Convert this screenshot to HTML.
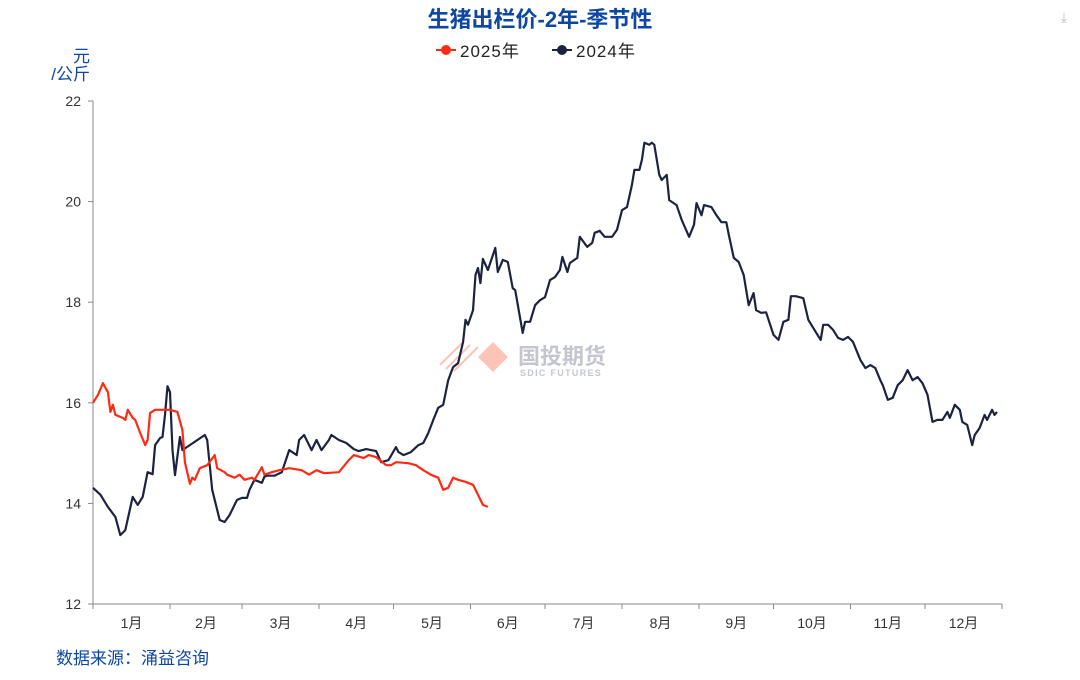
<!DOCTYPE html>
<html><head><meta charset="utf-8"><style>
body{margin:0;background:#fff;width:1080px;height:675px;overflow:hidden;font-family:"Liberation Sans","Noto Sans CJK SC",sans-serif}
</style></head><body>
<svg id="c" width="1080" height="675" xmlns="http://www.w3.org/2000/svg" font-family="Liberation Sans, Noto Sans CJK SC, sans-serif">
<text x="540" y="27" text-anchor="middle" font-size="22" font-weight="bold" fill="#0d47a1">生猪出栏价-2年-季节性</text>
<g><line x1="436" y1="50" x2="456" y2="50" stroke="#ff2a14" stroke-width="2"/><circle cx="446" cy="50" r="5" fill="#ff2a14"/><text x="460" y="57" font-size="17" fill="#222" letter-spacing="1">2025年</text></g>
<g><line x1="552" y1="50" x2="572" y2="50" stroke="#1c2340" stroke-width="2"/><circle cx="562" cy="50" r="5" fill="#1c2340"/><text x="576" y="57" font-size="17" fill="#222" letter-spacing="1">2024年</text></g>
<text x="1064" y="22" font-size="14" fill="#bbb" text-anchor="middle">⤓</text>
<text x="90" y="62" font-size="17" fill="#0d47a1" text-anchor="end">元</text>
<text x="90" y="80" font-size="17" fill="#0d47a1" text-anchor="end">/公斤</text>
<g opacity="0.5">
<polygon points="478,357 493,342 508,357 493,372" fill="#f98a70"/>
<line x1="440" y1="365" x2="462" y2="343" stroke="#f98a70" stroke-width="2"/>
<line x1="446" y1="369" x2="470" y2="345" stroke="#f98a70" stroke-width="2"/>
<line x1="454" y1="371" x2="478" y2="347" stroke="#f98a70" stroke-width="2"/>
<text x="518" y="364" font-size="22" font-weight="bold" fill="#8a8fa0">国投期货</text>
<text x="520" y="376" font-size="9" font-weight="bold" fill="#8a8fa0" letter-spacing="1.3">SDIC FUTURES</text>
</g>
<g id="axes"></g>
<g id="series"></g>
<text x="56" y="664" font-size="17" fill="#0d47a1">数据来源：涌益咨询</text>
</svg>
<script>
const yTicks=[12,14,16,18,20,22];
const months=["1月","2月","3月","4月","5月","6月","7月","8月","9月","10月","11月","12月"];
const monthStart=[0,31,60,91,121,152,182,213,244,274,305,335,366];
const days2024=[0,3,6,9,11,13,16,18,20,22,24,25,27,28,29,30,31,32,33,35,36,45,46,48,51,53,55,58,60,62,63,65,68,69,70,73,76,79,82,83,85,88,90,92,95,96,99,102,105,107,110,114,116,119,122,123,125,128,131,133,135,137,139,141,143,145,147,149,150,151,153,154,155,156,157,159,162,163,165,167,169,170,173,174,176,178,180,182,184,186,188,189,191,192,195,196,199,201,202,204,206,209,211,213,215,217,218,220,221,222,224,225,226,228,229,231,232,235,237,240,242,243,245,246,249,251,253,255,256,258,260,262,264,266,267,269,271,274,276,278,280,281,283,286,288,291,293,294,296,298,300,302,304,306,309,311,313,315,317,318,320,322,324,326,328,330,332,334,336,338,340,342,344,345,347,349,350,352,354,355,357,359,360,362,363,364];
const values2024=[14.31,14.17,13.93,13.73,13.37,13.47,14.13,13.97,14.13,14.62,14.58,15.16,15.30,15.32,15.76,16.33,16.21,15.06,14.56,15.32,15.06,15.36,15.26,14.27,13.67,13.63,13.77,14.07,14.11,14.11,14.27,14.47,14.41,14.53,14.55,14.55,14.62,15.06,14.96,15.26,15.36,15.06,15.26,15.06,15.26,15.36,15.26,15.20,15.08,15.04,15.08,15.04,14.82,14.86,15.12,15.02,14.96,15.02,15.16,15.20,15.40,15.66,15.90,15.96,16.45,16.71,16.79,17.21,17.65,17.55,17.84,18.54,18.68,18.38,18.86,18.64,19.08,18.60,18.84,18.80,18.28,18.24,17.39,17.61,17.61,17.94,18.04,18.10,18.44,18.50,18.64,18.90,18.60,18.78,18.88,19.30,19.10,19.18,19.38,19.42,19.30,19.30,19.44,19.83,19.89,20.33,20.63,20.63,20.83,21.17,21.13,21.17,21.13,20.53,20.43,20.53,20.03,19.93,19.64,19.30,19.54,19.97,19.73,19.93,19.89,19.73,19.59,19.59,19.34,18.88,18.80,18.54,17.94,18.18,17.84,17.79,17.80,17.35,17.25,17.61,17.65,18.12,18.12,18.08,17.65,17.41,17.25,17.55,17.55,17.45,17.29,17.25,17.31,17.21,16.85,16.69,16.75,16.69,16.45,16.35,16.06,16.10,16.35,16.45,16.65,16.45,16.51,16.39,16.16,15.62,15.66,15.66,15.82,15.70,15.96,15.86,15.62,15.56,15.16,15.36,15.50,15.76,15.66,15.86,15.76,15.82];
const days2025=[0,2,4,6,7,8,9,12,13,14,16,17,19,21,22,23,25,31,34,36,37,39,40,41,43,46,49,50,53,54,57,59,61,64,65,68,69,72,75,79,84,87,90,93,99,103,105,109,111,114,118,120,122,127,130,133,136,139,141,143,145,147,150,153,155,157,159];
const values2025=[16.0,16.16,16.39,16.21,15.82,15.96,15.76,15.70,15.66,15.86,15.70,15.66,15.40,15.16,15.26,15.80,15.86,15.86,15.82,15.46,14.82,14.39,14.51,14.47,14.70,14.76,14.96,14.70,14.62,14.57,14.51,14.57,14.47,14.51,14.47,14.72,14.57,14.62,14.66,14.70,14.66,14.57,14.66,14.60,14.62,14.86,14.96,14.90,14.96,14.92,14.76,14.76,14.82,14.80,14.76,14.66,14.57,14.51,14.27,14.31,14.51,14.47,14.43,14.37,14.17,13.97,13.93];
const X0=93,X1=1002,Y0=604,Y1=101;
const xs=d=>X0+d/366*(X1-X0);
const ys=v=>Y0-(v-12)/10*(Y0-Y1);
const NS="http://www.w3.org/2000/svg";
function mk(tag,attrs,parent){const e=document.createElementNS(NS,tag);for(const k in attrs)e.setAttribute(k,attrs[k]);parent.appendChild(e);return e;}
const ax=document.getElementById('axes');
let l=mk('line',{x1:X0,y1:Y1,x2:X0,y2:Y0,stroke:'#888','stroke-width':1},ax);


l=mk('line',{x1:X0,y1:Y0,x2:X1,y2:Y0,stroke:'#888','stroke-width':1},ax);


yTicks.forEach(v=>{
  mk('line',{x1:X0-5,y1:ys(v),x2:X0,y2:ys(v),stroke:'#888'},ax);
  const t=mk('text',{x:X0-12,y:ys(v)+5,'text-anchor':'end','font-size':14,fill:'#333'},ax);
  t.textContent=v;
  
  
});
monthStart.forEach(d=>mk('line',{x1:xs(d),y1:Y0,x2:xs(d),y2:Y0+5,stroke:'#888'},ax));
months.forEach((m,i)=>{
  const t=mk('text',{x:(xs(monthStart[i])+xs(monthStart[i+1]))/2,y:628,'text-anchor':'middle','font-size':14,fill:'#333'},ax);
  t.textContent=m;
  
  
});
const sg=document.getElementById('series');
function line(days,vals,color,name){
  const d=days.map((dd,i)=>(i?'L':'M')+xs(dd).toFixed(1)+','+ys(vals[i]).toFixed(1)).join('');
  const p=mk('path',{d:d,fill:'none',stroke:color,'stroke-width':2.2,'stroke-linejoin':'round'},sg);
  
  
}
line(days2024,values2024,'#1c2340','line-2024');
line(days2025,values2025,'#ff2a14','line-2025');
</script>
</body></html>
